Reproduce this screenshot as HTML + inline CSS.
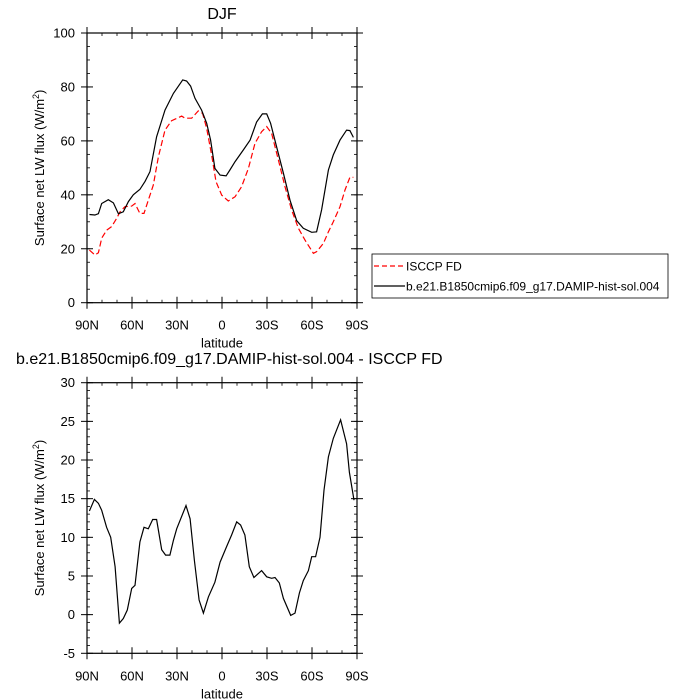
<!DOCTYPE html>
<html><head><meta charset="utf-8"><style>
body{margin:0;background:#fff;}
svg{display:block;font-family:"Liberation Sans",sans-serif;}
</style></head><body>
<svg id="chart" width="700" height="700" viewBox="0 0 700 700">
<text x="222" y="19" text-anchor="middle" font-size="16">DJF</text>
<text x="16" y="364" font-size="16">b.e21.B1850cmip6.f09_g17.DAMIP-hist-sol.004 - ISCCP FD</text>
<g>
<rect x="372" y="254" width="296" height="44" fill="#fff" stroke="#000" stroke-width="0.8"/>
<line x1="374" y1="266" x2="405" y2="266" stroke="#f00" stroke-dasharray="5,3" stroke-width="1.2"/>
<text x="406" y="270.5" font-size="12">ISCCP FD</text>
<line x1="374" y1="286" x2="405" y2="286" stroke="#000" stroke-width="1.2"/>
<text x="406" y="290.5" font-size="12">b.e21.B1850cmip6.f09_g17.DAMIP-hist-sol.004</text>
</g>
</svg>
<script>
const xTickLabels=["90N","60N","30N","0","30S","60S","90S"];
const xTickLats=[90,60,30,0,-30,-60,-90];
const topYTicks=[0,20,40,60,80,100];
const botYTicks=[-5,0,5,10,15,20,25,30];
const modelLat=[88.4,84.7,82.4,80.2,75.8,72.4,69.1,65.8,62.4,59.1,54.7,51.3,48,43.6,38,32.4,26.2,23.6,20.9,18,13.6,10.2,7.6,4.7,1.3,-2.7,-5.3,-8.7,-14.2,-18.7,-23.1,-26.9,-29.8,-32.4,-36.4,-40.9,-45.3,-49.8,-54.2,-59.8,-63.1,-66.4,-70.9,-74.2,-78.7,-83.1,-85.3,-87.6];
const modelVal=[32.7,32.5,33,36.8,38.2,37,33,33.7,37.5,40,42,45,48.6,61.5,71.4,77.6,82.6,82.2,80.3,75.8,71.4,66.5,60.3,49.8,47.3,47,49.2,52.3,56.6,60.3,67,70,70,66.5,57.8,48,38,30.4,27.6,26.1,26.3,34.4,49.2,54.8,60.3,64,63.8,61.3];
const obsLat=[88.4,84.7,82.4,80.2,76.9,73.6,70.2,68,64.7,60.2,58,54.7,52,49.1,45.8,42.4,38,33.6,26.9,24.7,20.2,15.8,12.9,10.2,6.9,4,0.2,-4.2,-8.7,-13.1,-17.6,-22,-26.4,-29.8,-33.1,-37.6,-42,-46.4,-50.9,-55.3,-60.9,-63.1,-67.6,-70.9,-74.2,-78.7,-82,-85.3,-87.6];
const obsVal=[19.5,17.7,18.5,23.9,26.9,28.2,31.3,33.7,35.6,35.8,36.8,33.1,33.1,38,43.6,54.1,64,67.5,69.2,68.4,68.4,71.1,70.2,64.6,54.8,44.9,39.9,37.7,39.3,43,49.8,59.1,63.4,65.3,62.8,52.9,43,34.4,27.6,23.2,18.3,18.9,22,26.3,30,35.6,41.8,46.5,46.5];
const diffLat=[88.4,85.1,82.4,80.2,76.9,74.2,71.3,68.4,65.8,63.1,60.2,58,54.7,52,49.1,46.2,43.6,40.2,37.6,34.7,32.4,30.2,24,21.3,18.4,15.3,12.4,9.1,4.7,1.3,-3.1,-6.4,-9.8,-12.4,-15.3,-18.2,-21.3,-26.4,-29.8,-33.1,-35.3,-38.2,-40.9,-45.8,-48.7,-51.6,-54.2,-57.6,-59.8,-62.4,-65.3,-68,-70.9,-74.2,-79.1,-83.1,-84.9,-88];
const diffVal=[13.4,14.9,14.4,13.5,11.3,10,6.2,-1.1,-0.5,0.6,3.4,3.8,9.4,11.3,11.1,12.3,12.3,8.4,7.7,7.7,9.6,11.1,14.1,12.4,7,1.9,0.2,2.3,4.2,6.8,8.8,10.3,12,11.6,10.3,6.2,4.8,5.7,4.9,4.7,4.8,4.1,2.1,-0.1,0.2,2.8,4.4,5.7,7.5,7.5,10,16.1,20.4,22.8,25.2,22.1,18.4,14.8];

const NS="http://www.w3.org/2000/svg";
const svg=document.getElementById('chart');
function mk(tag,attrs,parent){const e=document.createElementNS(NS,tag);for(const k in attrs)e.setAttribute(k,attrs[k]);(parent||svg).appendChild(e);return e;}
const L=87,R=357;
const xs=lat=>L+(90-lat)/180*(R-L);

function panel(name,top,bot,ymin,ymax,yticks,yminor,series){
  const g=mk('g',{});
  
  
  const ys=v=>bot-(v-ymin)/(ymax-ymin)*(bot-top);
  for(let lat=90;lat>=-90;lat-=10){const x=xs(lat);
    const t1=mk('line',{x1:x,x2:x,y1:bot,y2:bot-3,stroke:'#000','stroke-width':0.8},g);
    
    mk('line',{x1:x,x2:x,y1:top,y2:top+3,stroke:'#000','stroke-width':0.8},g);}
  for(let v=ymin;v<=ymax+1e-9;v+=yminor){const y=ys(v);
    const t=mk('line',{x1:L,x2:L+3,y1:y,y2:y,stroke:'#000','stroke-width':0.8},g);
    
    mk('line',{x1:R,x2:R-3,y1:y,y2:y,stroke:'#000','stroke-width':0.8},g);}
  xTickLats.forEach((lat,i)=>{const x=xs(lat);
    mk('line',{x1:x,x2:x,y1:bot+6,y2:bot-6,stroke:'#000','stroke-width':1},g);
    mk('line',{x1:x,x2:x,y1:top-6,y2:top+6,stroke:'#000','stroke-width':1},g);
    const t=mk('text',{x:x,y:bot+27,'text-anchor':'middle','font-size':13},g);
    
    t.textContent=xTickLabels[i];});
  yticks.forEach(v=>{const y=ys(v);
    mk('line',{x1:L-6,x2:L+6,y1:y,y2:y,stroke:'#000','stroke-width':1},g);
    mk('line',{x1:R+6,x2:R-6,y1:y,y2:y,stroke:'#000','stroke-width':1},g);
    const t=mk('text',{x:L-12,y:y+4.5,'text-anchor':'end','font-size':13},g);
    
    t.textContent=v;});
  series.forEach(s=>{
    const d=s.lat.map((la,i)=>(i?'L':'M')+xs(la).toFixed(1)+','+ys(s.val[i]).toFixed(1)).join('');
    const p=mk('path',{d:d,fill:'none',stroke:s.color,'stroke-width':1.2,'stroke-dasharray':s.dash||'none'},g);
    });
  const box=mk('rect',{x:L,y:top,width:R-L,height:bot-top,fill:'none',stroke:'#000','stroke-width':1.2},g);
  
  const xl=mk('text',{x:(L+R)/2,y:bot+45,'text-anchor':'middle','font-size':13},g);
  
  xl.textContent='latitude';
  const cy=(top+bot)/2;
  const yl=mk('text',{x:0,y:0,'text-anchor':'middle','font-size':13,transform:`translate(44,${cy}) rotate(-90)`},g);
  
  yl.innerHTML='Surface net LW flux (W/m<tspan dy="-5" font-size="9">2</tspan><tspan dy="5">)</tspan>';
}
panel('top-panel',33,302.7,0,100,topYTicks,5,[
  {lat:obsLat,val:obsVal,color:'#f00',dash:'6,3',name:'isccp-line'},
  {lat:modelLat,val:modelVal,color:'#000',name:'model-line'}]);
panel('bottom-panel',382.7,653.3,-5,30,botYTicks,1,[
  {lat:diffLat,val:diffVal,color:'#000',name:'difference-line'}]);
</script>
</body></html>
